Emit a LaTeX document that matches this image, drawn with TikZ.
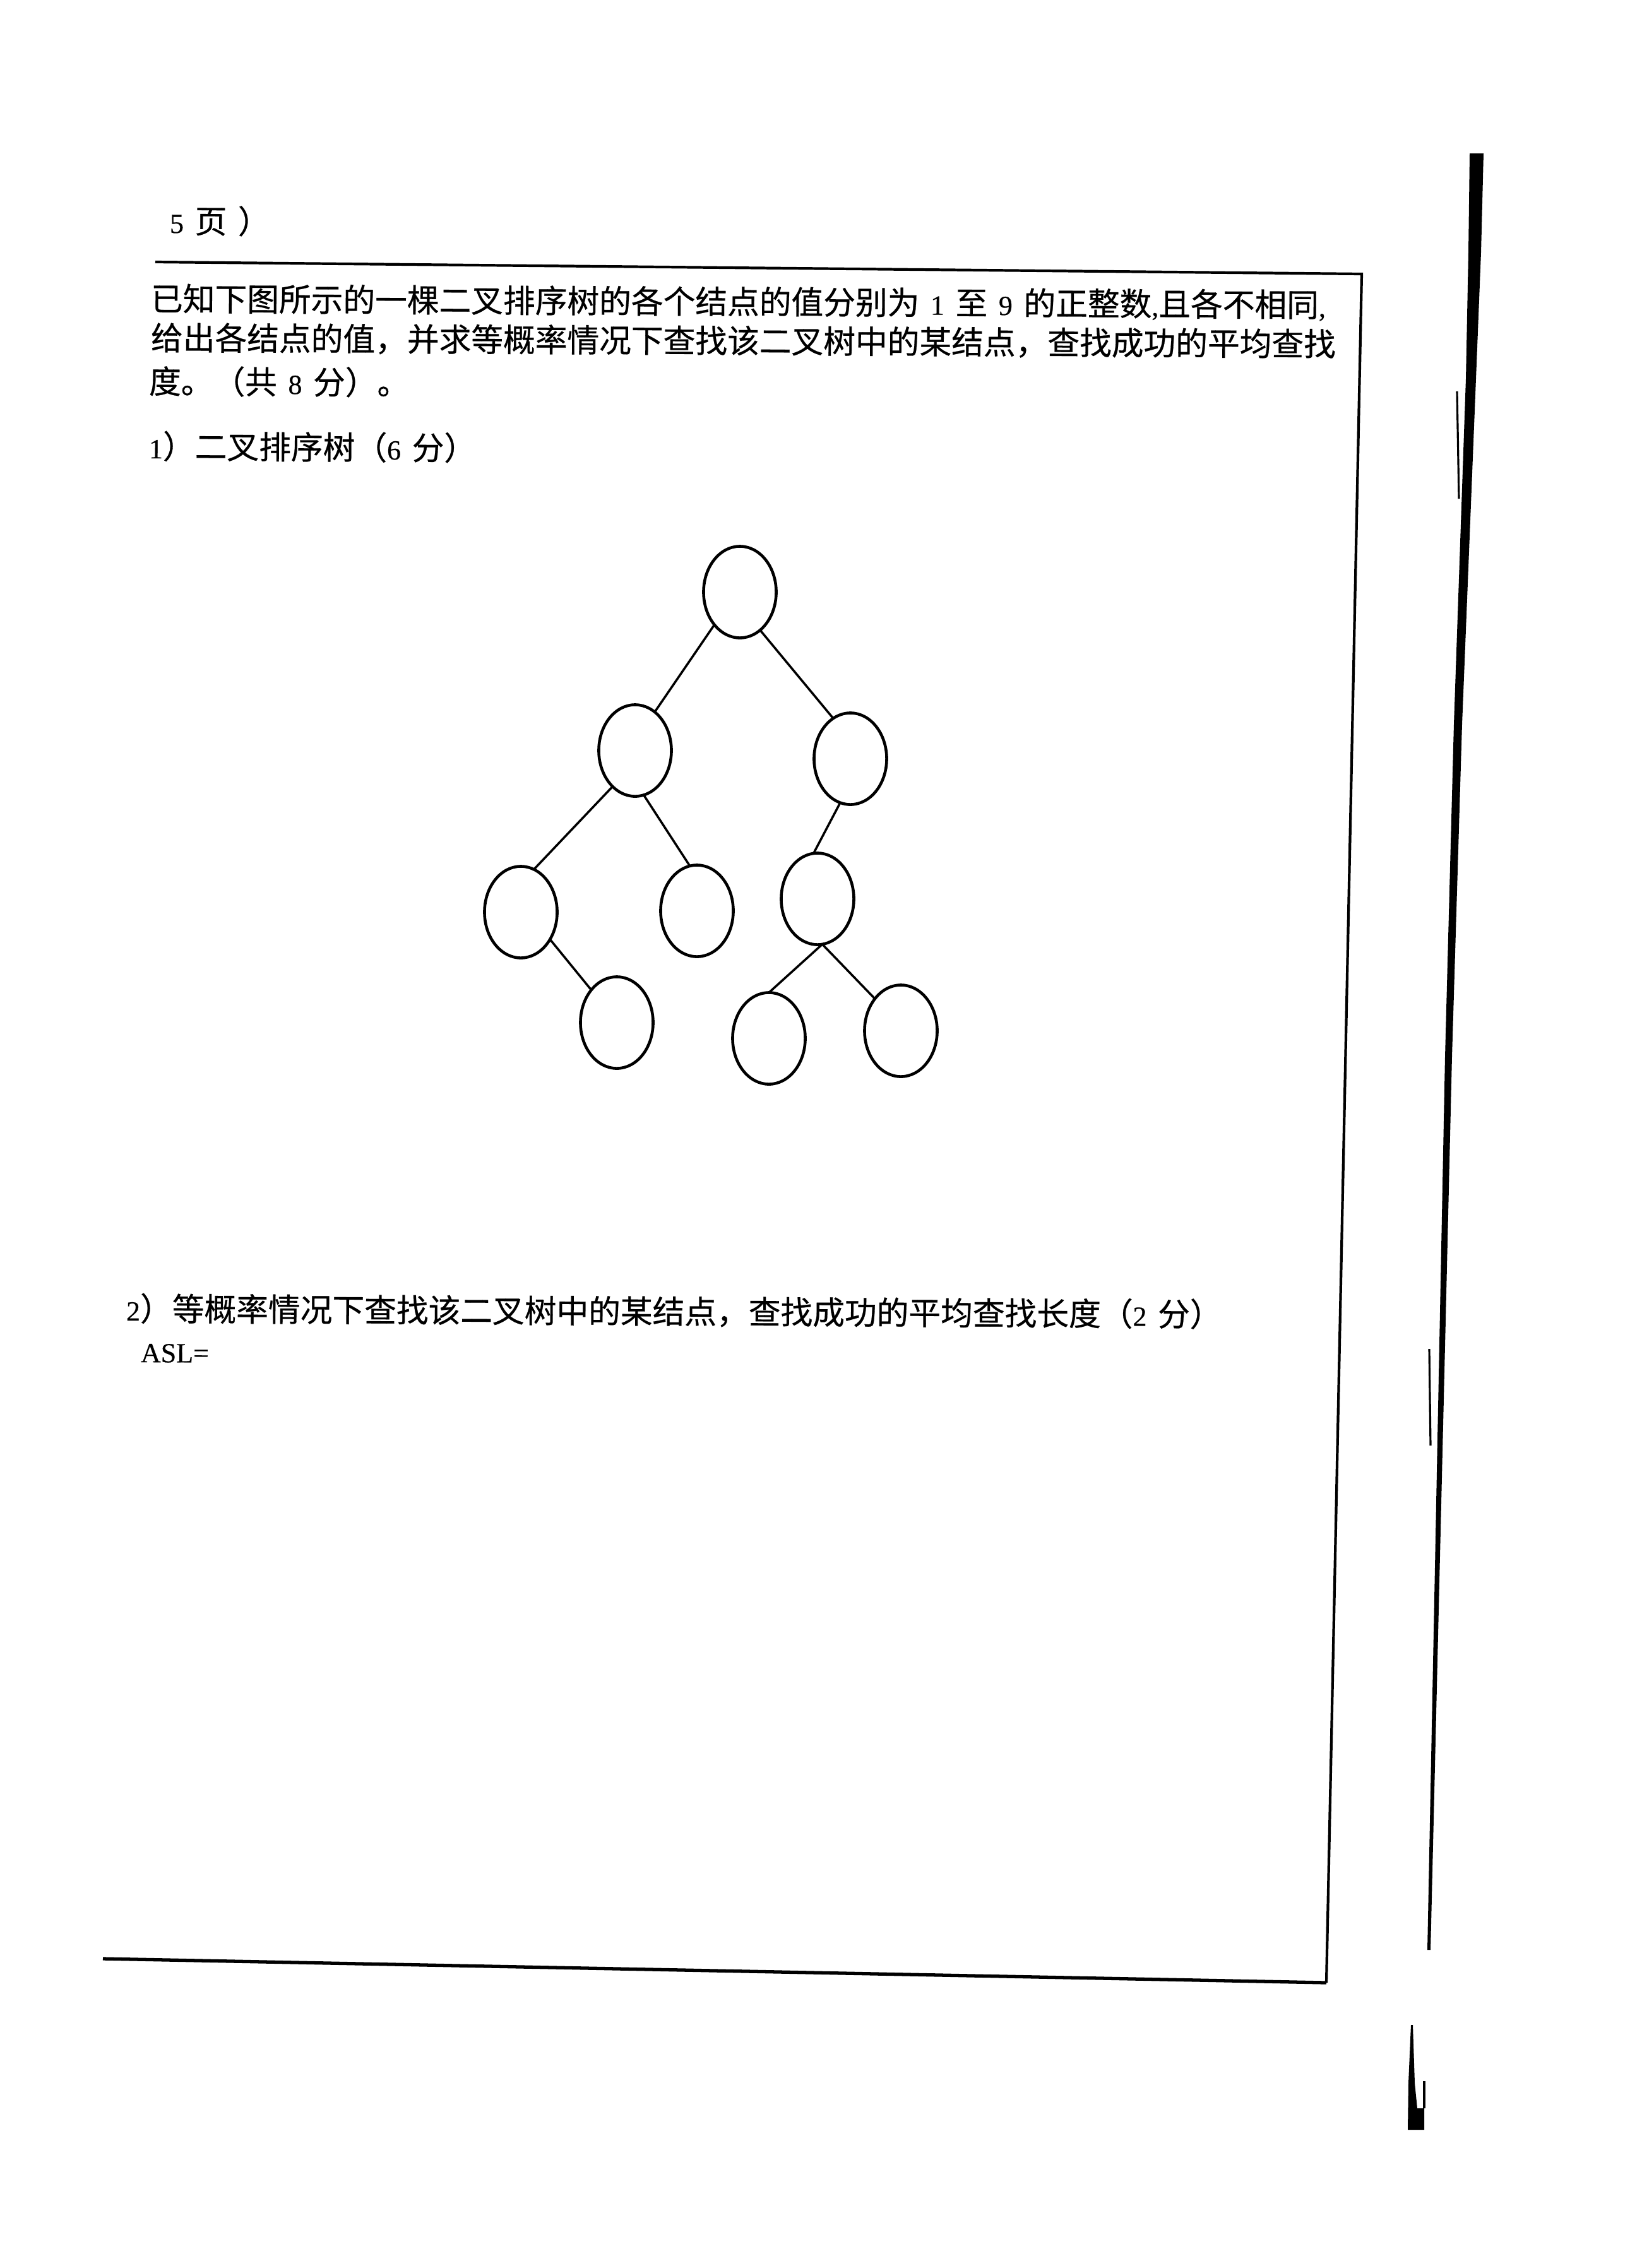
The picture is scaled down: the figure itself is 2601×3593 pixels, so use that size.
\documentclass[tikz,border=0pt]{standalone}
\usepackage{fontspec}
\setmainfont{Liberation Serif}[FakeBold=0.5]
\newfontfamily\C[Scale=1.154,FakeBold=0.5]{Noto Sans CJK SC}
\usetikzlibrary{shapes.geometric}
\newcommand{\gap}{\hspace{5pt}}
\begin{document}
\begin{tikzpicture}[x=0.01cm,y=-0.01cm,
  tnode/.style={ellipse,draw,line width=1.3pt,minimum width=1.15cm,minimum height=1.45cm,inner sep=0pt,outer sep=0pt},
  edge/.style={line width=1.0pt},
  txt/.style={anchor=base west,inner sep=0pt,outer sep=0pt,font=\fontsize{12.5pt}{15pt}\selectfont,rotate=-0.3},
  frameline/.style={line width=1.2pt,line join=miter},
  bottomline/.style={line width=1.5pt},
  scanmark/.style={line width=0.9pt}]
\fill[white] (0,0) rectangle (2601,3593);
\useasboundingbox (0,0) rectangle (2601,3593);

% frame
\coordinate (tl) at (246,415);
\coordinate (tr) at (2157,434);
\coordinate (br) at (2101,3141);
\coordinate (bl) at (163,3103);
\draw[frameline] (tl) -- (tr) -- (br);
\draw[bottomline] (bl) -- (br);

% scanner bar at the right
\fill (2328,243) -- (2350,243) -- (2346,400) -- (2338,600) -- (2316,1147) -- (2300,1674) -- (2266,3089)
  -- (2261,3089) -- (2289,1674) -- (2303,1147) -- (2322,600) -- (2326,400) -- cycle;
\draw[scanmark] (2308,620) -- (2311,790);
\draw[scanmark] (2264,2137) -- (2266,2290);
\fill (2235,3208) -- (2238,3208) -- (2241,3300) -- (2245,3340) -- (2256,3340) -- (2256,3374)
  -- (2230,3374) -- (2231,3300) -- cycle;
\draw[scanmark] (2256,3297) -- (2256,3340);

% texts
\node[txt] (pg) at (269,369) {5\gap{\C 页\gap ）}};
\node[txt] (l1) at (239,492) {{\C 已知下图所示的一棵二叉排序树的各个结点的值分别为}\gap 1\gap{\C 至}\gap 9\gap{\C 的正整数},{\C 且各不相同},};
\node[txt] (l2) at (239,554) {\C 给出各结点的值，并求等概率情况下查找该二叉树中的某结点，查找成功的平均查找};
\node[txt] (l3) at (236,623) {{\C 度。（共}\gap 8\gap{\C 分）。}};
\node[txt] (l4) at (236,726) {1{\C ）二叉排序树（}6\gap{\C 分）}};
\node[txt] (l5) at (200,2092) {2{\C ）等概率情况下查找该二叉树中的某结点，查找成功的平均查找长度（}2\gap{\C 分）}};
\node[txt] (asl) at (223,2158) {ASL=};

% tree
\node[tnode] (root) at (1172,938) {};
\node[tnode] (L) at (1006,1189) {};
\node[tnode] (R) at (1347,1202) {};
\node[tnode] (LL) at (825,1445) {};
\node[tnode] (LR) at (1104,1443) {};
\node[tnode] (RL) at (1295,1424) {};
\node[tnode] (LLR) at (977,1620) {};
\node[tnode] (RLL) at (1218,1645) {};
\node[tnode] (RLR) at (1427,1633) {};

\draw[edge] (root.-128) -- (L.63);
\draw[edge] (root.-62) -- (R.113);
\draw[edge] (L.-122) -- (LL.73);
\draw[edge] (L.-79) -- (LR.99);
\draw[edge] (R.-103) -- (RL.95);
\draw[edge] (LL.-43) -- (LLR.128);
\draw[edge] (RL.-84) -- (RLL.north);
\draw[edge] (RL.-84) -- (RLR.129);
\end{tikzpicture}
\end{document}
